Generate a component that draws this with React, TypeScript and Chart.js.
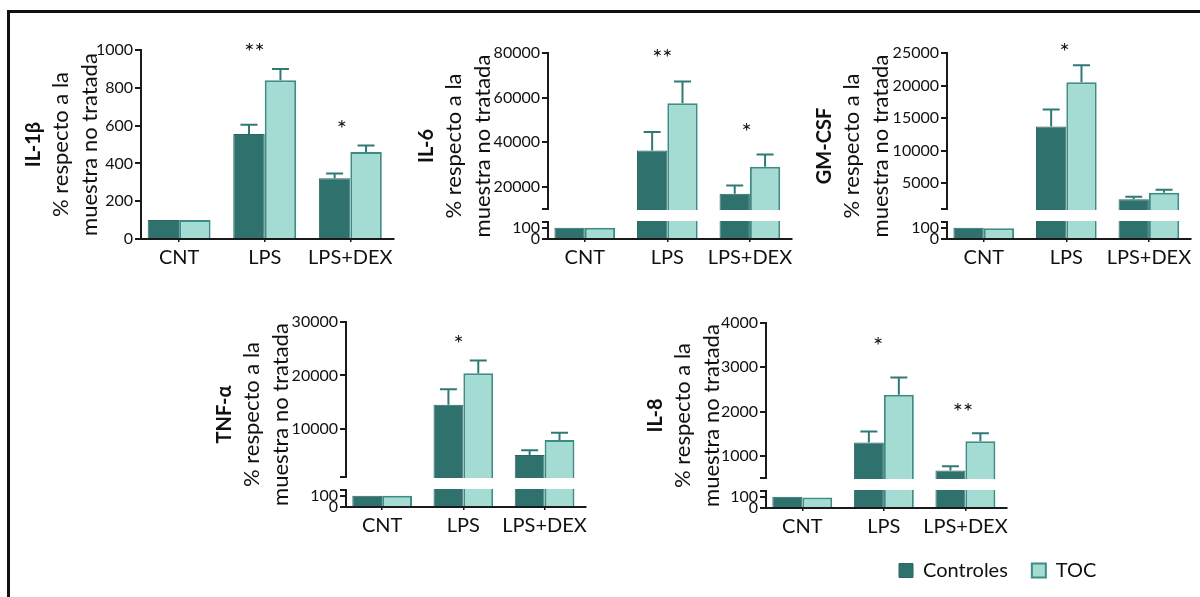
import React, { useEffect, useRef } from 'react';
import { Chart, registerables, LinearScale } from 'chart.js';

Chart.register(...registerables);

// Linear axis with a break: a short low segment (0..low), a white gap, then the high segment (high..max).
class SplitLinearScale extends LinearScale {
  getPixelForValue(value: number) {
    if (value === null || value === undefined || Number.isNaN(value)) return NaN;
    const { low, high, lowPx, gapPx } = (this as any).options.split;
    const self = this as any;
    const bottom = self.bottom;
    const upperPx = self.bottom - self.top - lowPx - gapPx;
    if (value <= low) return bottom - ((value - self.min) / (low - self.min)) * lowPx;
    if (value >= high) return bottom - lowPx - gapPx - ((value - high) / (self.max - high)) * upperPx;
    return bottom - lowPx - ((value - low) / (high - low)) * gapPx;
  }
  getValueForPixel(pixel: number) {
    const { low, high, lowPx, gapPx } = (this as any).options.split;
    const self = this as any;
    const d = self.bottom - pixel;
    const upperPx = self.bottom - self.top - lowPx - gapPx;
    if (d <= lowPx) return self.min + (d / lowPx) * (low - self.min);
    if (d >= lowPx + gapPx) return high + ((d - lowPx - gapPx) / upperPx) * (self.max - high);
    return low + ((d - lowPx) / gapPx) * (high - low);
  }
}
(SplitLinearScale as any).id = 'splitLinear';
(SplitLinearScale as any).defaults = (LinearScale as any).defaults;
Chart.register(SplitLinearScale as any);

// ---------------- data ----------------
const CATEGORIES = ['CNT', 'LPS', 'LPS+DEX'];
const SERIES = ['Controles', 'TOC'];
const Y_TITLE = ['% respecto a la', 'muestra no tratada'];

const IL1B_CONTROLES = [100, 555, 322];
const IL1B_TOC = [100, 840, 460];
const IL1B_CONTROLES_SEM = [0, 50, 25];
const IL1B_TOC_SEM = [0, 60, 35];
const IL1B_TICKS = [0, 200, 400, 600, 800, 1000];
const IL1B_SIGNIF = [{ at: 0.88, y: 1017, text: '**' }, { at: 1.9, y: 608, text: '*' }];

const IL6_CONTROLES = [100, 36300, 16800];
const IL6_TOC = [100, 57500, 29000];
const IL6_CONTROLES_SEM = [0, 8200, 3700];
const IL6_TOC_SEM = [0, 9700, 5500];
const IL6_TICKS = [0, 100, 150, 10000, 20000, 40000, 60000, 80000];
const IL6_BREAK = [150, 10000];
const IL6_SIGNIF = [{ at: 0.94, y: 80000, text: '**' }, { at: 1.96, y: 46800, text: '*' }];

const GMCSF_CONTROLES = [100, 13700, 2500];
const GMCSF_TOC = [95, 20500, 3500];
const GMCSF_CONTROLES_SEM = [0, 2600, 400];
const GMCSF_TOC_SEM = [0, 2600, 450];
const GMCSF_TICKS = [0, 100, 150, 1000, 5000, 10000, 15000, 20000, 25000];
const GMCSF_BREAK = [150, 1000];
const GMCSF_SIGNIF = [{ at: 0.98, y: 26000, text: '*' }];

const TNF_CONTROLES = [100, 14500, 5100];
const TNF_TOC = [100, 20400, 7900];
const TNF_CONTROLES_SEM = [0, 2900, 900];
const TNF_TOC_SEM = [0, 2400, 1400];
const TNF_TICKS = [0, 100, 150, 1000, 10000, 20000, 30000];
const TNF_BREAK = [150, 1000];
const TNF_SIGNIF = [{ at: 0.94, y: 26900, text: '*' }];

const IL8_CONTROLES = [100, 1300, 670];
const IL8_TOC = [92, 2380, 1330];
const IL8_CONTROLES_SEM = [0, 250, 95];
const IL8_TOC_SEM = [0, 390, 180];
const IL8_TICKS = [0, 100, 150, 500, 1000, 2000, 3000, 4000];
const IL8_BREAK = [150, 500];
const IL8_SIGNIF = [{ at: 0.93, y: 3590, text: '*' }, { at: 1.97, y: 2100, text: '**' }];

// ---------------- layout & style ----------------
const W = 1200;
const H = 597;
const FONT = "Lato, 'Open Sans', sans-serif";
const TEXT = '#111111';
const AXIS = '#1a1a1a';
const DARK = '#2e716d';
const DARK_EDGE = '#2a6864';
const LIGHT = '#a4dbd2';
const LIGHT_EDGE = '#3e8c86';
const ERR = '#2f7a75';
const GENE_BOX = 24;
const X_AXIS_H = 34;
const X_MIN = -0.445;
const X_MAX = 2.51;
const CAP = 17;
const STAR_SIZE = 24;

const BOX_IL1B = { padLeft: 22, axisX: 141, top: 50, right: 394, bottom: 239 };
const BOX_IL6 = { padLeft: 415, axisX: 548, top: 53, right: 792, bottom: 239 };
const BOX_GMCSF = { padLeft: 813, axisX: 947, top: 53, right: 1191, bottom: 239 };
const BOX_TNF = { padLeft: 213, axisX: 346, top: 322, right: 586, bottom: 507 };
const BOX_IL8 = { padLeft: 644, axisX: 766, top: 323, right: 1007, bottom: 508 };

type Signif = { at: number; y: number; text: string };
type Panel = {
  gene: string;
  controles: number[];
  toc: number[];
  controlesSem: number[];
  tocSem: number[];
  ticks: number[];
  split: number[] | null;
  signif: Signif[];
  box: { padLeft: number; axisX: number; top: number; right: number; bottom: number };
};

const PANELS: Panel[] = [
  { gene: 'IL-1β', controles: IL1B_CONTROLES, toc: IL1B_TOC, controlesSem: IL1B_CONTROLES_SEM, tocSem: IL1B_TOC_SEM, ticks: IL1B_TICKS, split: null, signif: IL1B_SIGNIF, box: BOX_IL1B },
  { gene: 'IL-6', controles: IL6_CONTROLES, toc: IL6_TOC, controlesSem: IL6_CONTROLES_SEM, tocSem: IL6_TOC_SEM, ticks: IL6_TICKS, split: IL6_BREAK, signif: IL6_SIGNIF, box: BOX_IL6 },
  { gene: 'GM-CSF', controles: GMCSF_CONTROLES, toc: GMCSF_TOC, controlesSem: GMCSF_CONTROLES_SEM, tocSem: GMCSF_TOC_SEM, ticks: GMCSF_TICKS, split: GMCSF_BREAK, signif: GMCSF_SIGNIF, box: BOX_GMCSF },
  { gene: 'TNF-α', controles: TNF_CONTROLES, toc: TNF_TOC, controlesSem: TNF_CONTROLES_SEM, tocSem: TNF_TOC_SEM, ticks: TNF_TICKS, split: TNF_BREAK, signif: TNF_SIGNIF, box: BOX_TNF },
  { gene: 'IL-8', controles: IL8_CONTROLES, toc: IL8_TOC, controlesSem: IL8_CONTROLES_SEM, tocSem: IL8_TOC_SEM, ticks: IL8_TICKS, split: IL8_BREAK, signif: IL8_SIGNIF, box: BOX_IL8 },
];

// Axis-break gap, SEM whiskers and significance asterisks.
function makeDecor(p: Panel) {
  return {
    id: 'panelDecor',
    afterDatasetsDraw(chart: any) {
      const { ctx, chartArea: a } = chart;
      const x = chart.scales.x;
      const y = chart.scales.y;
      ctx.save();
      if (p.split) {
        const yLow = y.getPixelForValue(p.split[0]);
        const yHigh = y.getPixelForValue(p.split[1]);
        ctx.fillStyle = '#ffffff';
        ctx.fillRect(a.left - 3, yHigh + 1, a.right - a.left + 6, yLow - yHigh - 2);
      }
      ctx.strokeStyle = ERR;
      ctx.lineWidth = 2;
      chart.data.datasets.forEach((ds: any, di: number) => {
        const meta = chart.getDatasetMeta(di);
        ds.data.forEach((v: number, j: number) => {
          const e = ds.sem[j];
          if (!e) return;
          const bar = meta.data[j];
          const y0 = y.getPixelForValue(v);
          const y1 = y.getPixelForValue(v + e);
          ctx.beginPath();
          ctx.moveTo(bar.x, y0);
          ctx.lineTo(bar.x, y1);
          ctx.moveTo(bar.x - CAP / 2, y1);
          ctx.lineTo(bar.x + CAP / 2, y1);
          ctx.stroke();
        });
      });
      ctx.fillStyle = TEXT;
      ctx.font = `${STAR_SIZE}px ${FONT}`;
      ctx.textAlign = 'center';
      ctx.textBaseline = 'alphabetic';
      p.signif.forEach((s) => {
        ctx.fillText(s.text, x.getPixelForValue(s.at), y.getPixelForValue(s.y) + 0.55 * STAR_SIZE);
      });
      ctx.restore();
    },
  };
}

function panelConfig(p: Panel): any {
  const b = p.box;
  const breaks = p.split ?? [];
  const yScale: any = {
    type: p.split ? 'splitLinear' : 'linear',
    min: 0,
    max: p.ticks[p.ticks.length - 1],
    afterBuildTicks: (s: any) => {
      s.ticks = p.ticks.map((v) => ({ value: v }));
    },
    afterFit: (s: any) => {
      s.width = b.axisX - b.padLeft - GENE_BOX;
    },
    ticks: {
      autoSkip: false,
      padding: 2,
      color: TEXT,
      font: { family: FONT, size: 16 },
      callback: (v: number) => (breaks.includes(v) ? '' : String(v)),
    },
    grid: { display: true, drawOnChartArea: false, drawTicks: true, tickLength: 6, color: AXIS, lineWidth: 2 },
    border: { display: true, color: AXIS, width: 2 },
    title: { display: true, text: Y_TITLE, color: TEXT, padding: 0, font: { family: FONT, size: 22, lineHeight: 1.32 } },
  };
  if (p.split) yScale.split = { low: p.split[0], high: p.split[1], lowPx: 17, gapPx: 13 };

  return {
    type: 'bar',
    data: {
      labels: CATEGORIES.map((_, i) => i),
      datasets: [
        {
          label: SERIES[0],
          data: p.controles,
          sem: p.controlesSem,
          backgroundColor: DARK,
          borderColor: DARK_EDGE,
          borderWidth: 1,
          borderSkipped: 'start',
          categoryPercentage: 0.735,
          barPercentage: 1,
        },
        {
          label: SERIES[1],
          data: p.toc,
          sem: p.tocSem,
          backgroundColor: LIGHT,
          borderColor: LIGHT_EDGE,
          borderWidth: 2,
          borderSkipped: 'start',
          categoryPercentage: 0.735,
          barPercentage: 1,
        },
      ],
    },
    options: {
      responsive: false,
      animation: false,
      events: [],
      layout: { padding: { left: b.padLeft, top: b.top, right: W - b.right, bottom: H - b.bottom - X_AXIS_H } },
      scales: {
        x: {
          type: 'linear',
          min: X_MIN,
          max: X_MAX,
          offset: false,
          afterBuildTicks: (s: any) => {
            s.ticks = CATEGORIES.map((_, i) => ({ value: i }));
          },
          afterFit: (s: any) => {
            s.height = X_AXIS_H;
          },
          ticks: {
            autoSkip: false,
            maxRotation: 0,
            minRotation: 0,
            padding: 4,
            color: TEXT,
            font: { family: FONT, size: 20 },
            callback: (v: number) => CATEGORIES[v] ?? '',
          },
          grid: { display: true, offset: false, drawOnChartArea: false, drawTicks: true, tickLength: 3, color: AXIS, lineWidth: 1.5 },
          border: { display: true, color: AXIS, width: 2 },
        },
        y: yScale,
      },
      plugins: {
        legend: { display: false },
        tooltip: { enabled: false },
        title: {
          display: true,
          text: p.gene,
          position: 'left',
          fullSize: false,
          color: TEXT,
          padding: 0,
          font: { family: FONT, size: 20, weight: 'bold', lineHeight: 1.2 },
        },
      },
    },
    plugins: [makeDecor(p)],
  };
}

function legendConfig(): any {
  return {
    type: 'bar',
    data: {
      labels: [],
      datasets: [
        { label: SERIES[0], data: [], backgroundColor: DARK, borderColor: DARK_EDGE, borderWidth: 1 },
        { label: SERIES[1], data: [], backgroundColor: LIGHT, borderColor: LIGHT_EDGE, borderWidth: 2 },
      ],
    },
    options: {
      responsive: false,
      animation: false,
      events: [],
      layout: { padding: { left: 875, top: 0, bottom: 6.5 } },
      scales: { x: { display: false }, y: { display: false } },
      plugins: {
        tooltip: { enabled: false },
        legend: {
          display: true,
          position: 'bottom',
          align: 'start',
          labels: { boxWidth: 14, boxHeight: 14, padding: 24, color: TEXT, font: { family: FONT, size: 20 } },
        },
      },
    },
  };
}

export default function App() {
  const refs = useRef<(HTMLCanvasElement | null)[]>([]);

  useEffect(() => {
    const charts: Chart[] = [];
    PANELS.forEach((p, i) => {
      const c = refs.current[i];
      if (c) charts.push(new Chart(c, panelConfig(p)));
    });
    const lc = refs.current[PANELS.length];
    if (lc) charts.push(new Chart(lc, legendConfig()));
    return () => charts.forEach((c) => c.destroy());
  }, []);

  const layers = [...PANELS.map((p) => p.gene), 'legend'];

  return (
    <div style={{ position: 'fixed', left: 0, top: 0, width: W, height: H, background: '#ffffff', overflow: 'hidden' }}>
      <div
        style={{
          position: 'absolute',
          left: 7,
          top: 10,
          width: W + 50,
          height: H + 50,
          borderTop: '3px solid #111',
          borderLeft: '3px solid #111',
        }}
      />
      {layers.map((name, i) => (
        <canvas
          key={name}
          ref={(el) => {
            refs.current[i] = el;
          }}
          width={W}
          height={H}
          style={{ position: 'absolute', left: 0, top: 0, width: W, height: H }}
        />
      ))}
    </div>
  );
}
